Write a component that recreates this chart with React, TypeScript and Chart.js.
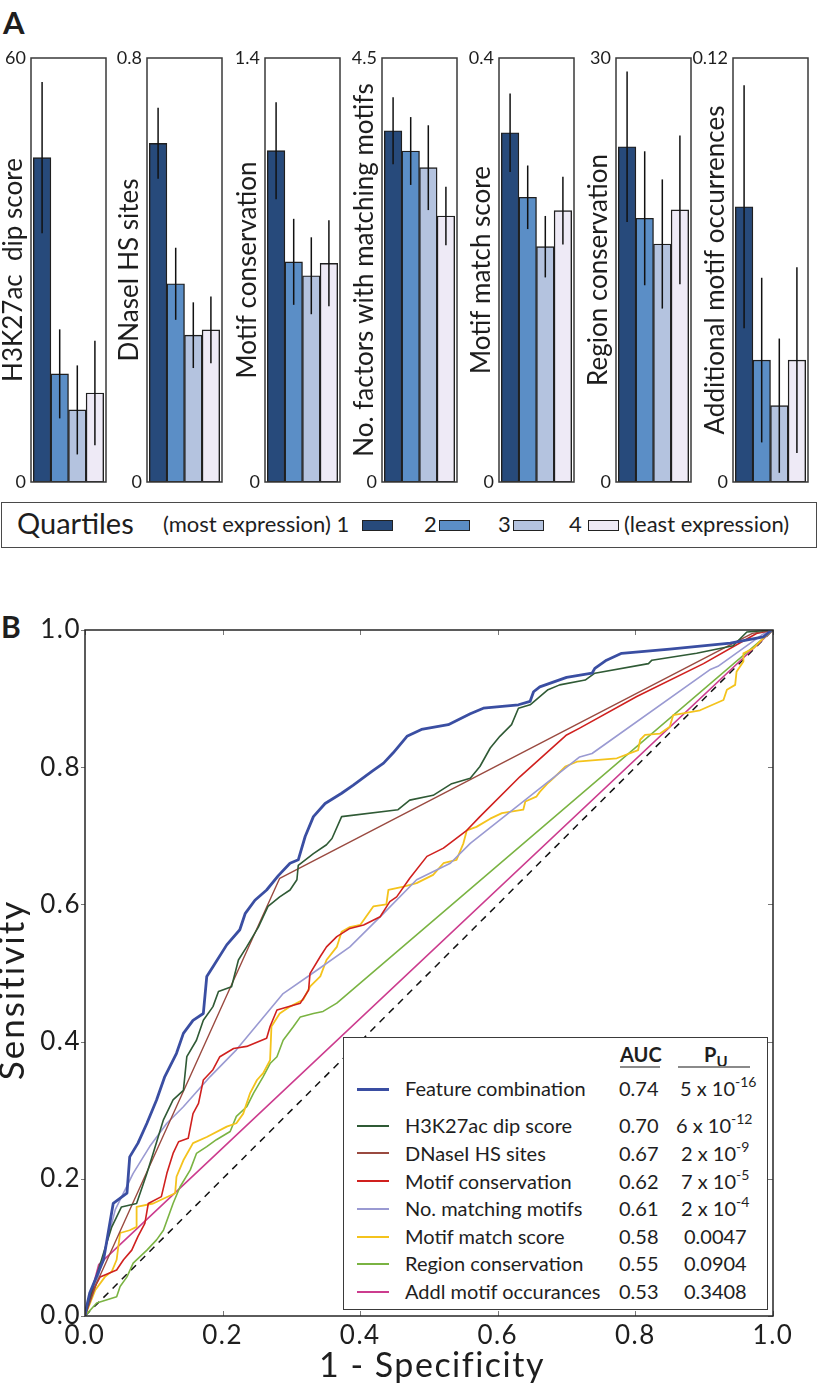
import React, { useEffect, useRef } from "react";
import { Chart, registerables } from "chart.js";

Chart.register(...registerables);

const FONT = "Lato, 'Open Sans', 'DejaVu Sans', sans-serif";
const TEXT = "#1e1e1e";

// ---------------- Panel A data ----------------
const quartiles = ["1", "2", "3", "4"];
const quartileColors = ["#274a7b", "#5b8ec6", "#b4c3df", "#eeeaf6"];

const panelTitles = [
  "H3K27ac  dip score",
  "DNaseI HS sites",
  "Motif conservation",
  "No. factors with matching motifs",
  "Motif match score",
  "Region conservation",
  "Additional motif occurrences",
];
const panelMaxValues = [60, 0.8, 1.4, 4.5, 0.4, 30, 0.12];
const panelMaxLabels = ["60", "0.8", "1.4", "4.5", "0.4", "30", "0.12"];

const h3k27acMean = [45.9, 15.3, 10.2, 12.6];
const h3k27acErr = [10.7, 6.3, 6.3, 7.4];
const dnaseMean = [0.639, 0.374, 0.277, 0.287];
const dnaseErr = [0.067, 0.068, 0.062, 0.063];
const motifConsMean = [1.094, 0.727, 0.681, 0.722];
const motifConsErr = [0.16, 0.142, 0.127, 0.142];
const factorsMean = [3.728, 3.513, 3.336, 2.823];
const factorsErr = [0.355, 0.36, 0.45, 0.31];
const matchScoreMean = [0.3295, 0.2686, 0.222, 0.256];
const matchScoreErr = [0.037, 0.03, 0.029, 0.032];
const regionConsMean = [23.72, 18.66, 16.84, 19.25];
const regionConsErr = [5.33, 4.74, 4.57, 5.26];
const addlMotifMean = [0.0779, 0.0345, 0.0216, 0.0345];
const addlMotifErr = [0.0344, 0.0233, 0.019, 0.0263];

const panelMeans = [h3k27acMean, dnaseMean, motifConsMean, factorsMean, matchScoreMean, regionConsMean, addlMotifMean];
const panelErrors = [h3k27acErr, dnaseErr, motifConsErr, factorsErr, matchScoreErr, regionConsErr, addlMotifErr];

// ---------------- Panel B data ----------------
type Pt = [number, number];
const rocTickValues = [0, 0.2, 0.4, 0.6, 0.8, 1.0];
const rocTickLabels = ["0.0", "0.2", "0.4", "0.6", "0.8", "1.0"];
const rocXTitle = "1 - Specificity";
const rocYTitle = "Sensitivity";

const featureCombinationRoc: Pt[] = [
  [0, 0], [0.002, 0.012], [0.007, 0.034], [0.027, 0.082], [0.041, 0.164], [0.061, 0.179], [0.065, 0.232],
  [0.077, 0.252], [0.09, 0.281], [0.104, 0.315], [0.116, 0.349], [0.133, 0.383], [0.143, 0.412], [0.157, 0.431],
  [0.172, 0.441], [0.177, 0.495], [0.186, 0.509], [0.206, 0.541], [0.225, 0.563], [0.233, 0.587], [0.247, 0.606],
  [0.264, 0.621], [0.281, 0.642], [0.298, 0.66], [0.31, 0.665], [0.32, 0.699], [0.332, 0.728], [0.349, 0.747],
  [0.373, 0.762], [0.39, 0.774], [0.417, 0.794], [0.434, 0.806], [0.448, 0.821], [0.468, 0.845], [0.489, 0.855],
  [0.528, 0.862], [0.56, 0.878], [0.579, 0.886], [0.63, 0.891], [0.647, 0.896], [0.652, 0.91], [0.661, 0.917],
  [0.7, 0.931], [0.737, 0.937], [0.741, 0.944], [0.758, 0.956], [0.78, 0.966], [0.85, 0.972], [0.938, 0.981],
  [0.986, 0.99], [0.998, 1.0], [1, 1],
];
const h3k27acRoc: Pt[] = [
  [0, 0], [0.005, 0.02], [0.027, 0.092], [0.039, 0.13], [0.053, 0.159], [0.075, 0.164], [0.09, 0.208],
  [0.099, 0.237], [0.114, 0.286], [0.128, 0.315], [0.143, 0.329], [0.148, 0.378], [0.162, 0.402], [0.172, 0.431],
  [0.186, 0.451], [0.194, 0.473], [0.213, 0.48], [0.223, 0.519], [0.235, 0.538], [0.252, 0.567], [0.266, 0.597],
  [0.283, 0.611], [0.298, 0.621], [0.308, 0.636], [0.31, 0.657], [0.332, 0.674], [0.351, 0.687], [0.359, 0.696],
  [0.373, 0.728], [0.455, 0.738], [0.472, 0.752], [0.506, 0.759], [0.533, 0.776], [0.56, 0.784], [0.574, 0.801],
  [0.589, 0.828], [0.603, 0.845], [0.62, 0.862], [0.63, 0.886], [0.647, 0.891], [0.673, 0.913], [0.69, 0.92],
  [0.727, 0.927], [0.741, 0.937], [0.819, 0.951], [0.824, 0.956], [0.889, 0.966], [0.942, 0.977], [0.962, 0.997],
  [1, 1],
];
const dnaseRoc: Pt[] = [[0, 0], [0.017, 0.048], [0.283, 0.638], [0.97, 0.995], [1, 1]];
const motifConservationRoc: Pt[] = [
  [0, 0], [0.012, 0.038], [0.022, 0.057], [0.046, 0.067], [0.056, 0.082], [0.068, 0.096], [0.077, 0.116],
  [0.087, 0.135], [0.092, 0.164], [0.111, 0.174], [0.119, 0.208], [0.128, 0.237], [0.136, 0.254], [0.15, 0.259],
  [0.157, 0.295], [0.165, 0.31], [0.172, 0.344], [0.186, 0.359], [0.196, 0.378], [0.216, 0.39], [0.235, 0.393],
  [0.264, 0.405], [0.269, 0.422], [0.279, 0.446], [0.313, 0.456], [0.325, 0.475], [0.327, 0.499], [0.342, 0.524],
  [0.351, 0.538], [0.366, 0.553], [0.385, 0.565], [0.405, 0.57], [0.429, 0.582], [0.443, 0.604], [0.453, 0.611],
  [0.472, 0.638], [0.497, 0.67], [0.521, 0.682], [0.555, 0.708], [0.574, 0.728], [0.632, 0.786], [0.7, 0.847],
  [0.719, 0.857], [0.802, 0.903], [0.899, 0.951], [0.976, 0.995], [1, 1],
];
const matchingMotifsRoc: Pt[] = [
  [0, 0], [0.019, 0.057], [0.044, 0.155], [0.07, 0.208], [0.094, 0.247], [0.119, 0.281], [0.143, 0.305],
  [0.182, 0.349], [0.22, 0.388], [0.288, 0.47], [0.337, 0.504], [0.385, 0.538], [0.434, 0.587], [0.482, 0.636],
  [0.531, 0.66], [0.56, 0.689], [0.719, 0.815], [0.737, 0.82], [0.908, 0.942], [0.92, 0.947], [0.991, 0.998], [1, 1],
];
const motifMatchScoreRoc: Pt[] = [
  [0, 0], [0.015, 0.038], [0.029, 0.057], [0.039, 0.065], [0.046, 0.082], [0.051, 0.121], [0.065, 0.125],
  [0.075, 0.13], [0.075, 0.159], [0.099, 0.164], [0.131, 0.179], [0.133, 0.203], [0.143, 0.227], [0.157, 0.252],
  [0.177, 0.261], [0.206, 0.276], [0.22, 0.281], [0.23, 0.295], [0.24, 0.325], [0.25, 0.344], [0.259, 0.354],
  [0.269, 0.373], [0.271, 0.422], [0.283, 0.441], [0.298, 0.451], [0.317, 0.461], [0.327, 0.48], [0.342, 0.495],
  [0.351, 0.519], [0.366, 0.538], [0.373, 0.56], [0.385, 0.567], [0.4, 0.57], [0.419, 0.597], [0.438, 0.6],
  [0.441, 0.621], [0.463, 0.626], [0.482, 0.631], [0.506, 0.643], [0.521, 0.66], [0.54, 0.665], [0.55, 0.689],
  [0.555, 0.708], [0.569, 0.713], [0.589, 0.725], [0.606, 0.733], [0.637, 0.738], [0.64, 0.75], [0.656, 0.757],
  [0.661, 0.764], [0.673, 0.777], [0.681, 0.784], [0.698, 0.801], [0.715, 0.808], [0.773, 0.813], [0.804, 0.825],
  [0.807, 0.84], [0.814, 0.847], [0.836, 0.849], [0.85, 0.859], [0.855, 0.876], [0.894, 0.883], [0.928, 0.898],
  [0.933, 0.913], [0.945, 0.92], [0.947, 0.939], [0.957, 0.954], [0.957, 0.966], [0.971, 0.973], [0.981, 0.983],
  [0.996, 0.998], [1, 1],
];
const regionConservationRoc: Pt[] = [
  [0, 0], [0.017, 0.019], [0.046, 0.028], [0.051, 0.043], [0.061, 0.057], [0.07, 0.077], [0.09, 0.096],
  [0.104, 0.111], [0.114, 0.125], [0.128, 0.164], [0.138, 0.188], [0.153, 0.213], [0.162, 0.237], [0.177, 0.247],
  [0.191, 0.257], [0.211, 0.269], [0.22, 0.291], [0.235, 0.305], [0.245, 0.325], [0.259, 0.349], [0.269, 0.368],
  [0.279, 0.378], [0.288, 0.402], [0.303, 0.422], [0.313, 0.436], [0.332, 0.441], [0.346, 0.444], [0.366, 0.456],
  [1, 1],
];
const addlMotifRoc: Pt[] = [[0, 0], [0.02, 0.075], [1, 1]];
const chanceRoc: Pt[] = [[0, 0], [1, 1]];

const rocNames = [
  "Feature combination",
  "H3K27ac  dip score",
  "DNaseI HS sites",
  "Motif conservation",
  "No. matching motifs",
  "Motif match score",
  "Region conservation",
  "Addl motif occurances",
];
const rocAuc = ["0.74", "0.70", "0.67", "0.62", "0.61", "0.58", "0.55", "0.53"];
const rocPBase = ["5 x 10", "6 x 10", "2 x 10", "7 x 10", "2 x 10", "0.0047", "0.0904", "0.3408"];
const rocPExp = ["-16", "-12", "-9", "-5", "-4", "", "", ""];
const rocSeries = [
  featureCombinationRoc, h3k27acRoc, dnaseRoc, motifConservationRoc,
  matchingMotifsRoc, motifMatchScoreRoc, regionConservationRoc, addlMotifRoc,
];
const rocColors = ["#3a4ea2", "#2f5a35", "#9a4a40", "#d0201e", "#9a9ad2", "#f4c31c", "#7ab342", "#cc3c8e"];
const rocWidths = [2.8, 1.6, 1.4, 1.6, 1.6, 1.8, 1.6, 1.6];

// ---------------- layout constants ----------------
const panelLefts = [31, 147, 265, 382, 499, 616, 733];
const PANEL_W = 75;
const AXIS_W = 40;
const PANEL_CANVAS_TOP = 30;
const PANEL_CANVAS_H = 470;
const PANEL_TOP = 58;
const PANEL_BOTTOM = 482;

const panelDecor = {
  id: "panelDecor",
  afterDatasetsDraw(chart: any, _args: any, opts: any) {
    const { ctx, chartArea: a, scales } = chart;
    const y = scales.y;
    const meta = chart.getDatasetMeta(0);
    const means = opts.means as number[];
    const errs = opts.errors as number[];
    ctx.save();
    ctx.strokeStyle = "#111";
    ctx.lineWidth = 1.5;
    meta.data.forEach((el: any, i: number) => {
      ctx.beginPath();
      ctx.moveTo(el.x, y.getPixelForValue(means[i] + errs[i]));
      ctx.lineTo(el.x, y.getPixelForValue(means[i] - errs[i]));
      ctx.stroke();
    });
    ctx.strokeStyle = "#3a3a3a";
    ctx.lineWidth = 1.5;
    ctx.strokeRect(a.left, a.top, a.right - a.left, a.bottom - a.top);
    ctx.translate(a.left - 9, (a.top + a.bottom) / 2);
    ctx.rotate(-Math.PI / 2);
    ctx.fillStyle = TEXT;
    ctx.font = `26px ${FONT}`;
    ctx.textAlign = "center";
    ctx.textBaseline = "alphabetic";
    ctx.fillText(opts.title, 0, 0);
    ctx.restore();
  },
};

function BarPanel({ idx }: { idx: number }) {
  const ref = useRef<HTMLCanvasElement>(null);
  const cw = AXIS_W + PANEL_W + 5;
  useEffect(() => {
    const max = panelMaxValues[idx];
    const means = panelMeans[idx];
    const chart = new Chart(ref.current as HTMLCanvasElement, {
      type: "bar",
      data: {
        datasets: [
          {
            data: quartiles.map((_q, i) => ({ x: i, y: means[i] })),
            backgroundColor: quartileColors,
            borderColor: "#1f1f1f",
            borderWidth: 1.4,
            borderSkipped: false,
            barPercentage: 1,
            categoryPercentage: 1,
          } as any,
        ],
      },
      options: {
        responsive: false,
        animation: false,
        devicePixelRatio: 1,
        layout: {
          padding: {
            top: PANEL_TOP - PANEL_CANVAS_TOP,
            right: 5,
            bottom: PANEL_CANVAS_TOP + PANEL_CANVAS_H - PANEL_BOTTOM,
            left: 0,
          },
        },
        plugins: {
          legend: { display: false },
          tooltip: { enabled: false },
          panelDecor: { means, errors: panelErrors[idx], title: panelTitles[idx] },
        } as any,
        scales: {
          x: { type: "linear", min: -0.63, max: 3.63, offset: false, display: false },
          y: {
            type: "linear",
            min: 0,
            max,
            afterFit: (s: any) => {
              s.width = AXIS_W;
            },
            afterBuildTicks: (s: any) => {
              s.ticks = [{ value: 0 }, { value: max }];
            },
            ticks: {
              callback: (v: any) => (v === 0 ? "0" : panelMaxLabels[idx]),
              font: { family: FONT, size: 18 },
              color: TEXT,
              padding: 5,
            },
            grid: { display: false, drawTicks: false },
            border: { display: false },
          },
        } as any,
      },
      plugins: [panelDecor],
    });
    return () => chart.destroy();
  }, [idx]);
  return (
    <canvas
      ref={ref}
      width={cw}
      height={PANEL_CANVAS_H}
      style={{
        position: "absolute",
        left: panelLefts[idx] - AXIS_W,
        top: PANEL_CANVAS_TOP,
        width: cw,
        height: PANEL_CANVAS_H,
      }}
    />
  );
}

const ROC_TOP = 560;
const ROC_H = 833;

const rocFrame = {
  id: "rocFrame",
  beforeDraw(chart: any) {
    (chart.ctx as any).letterSpacing = "1.5px";
  },
  afterDatasetsDraw(chart: any) {
    const { ctx, chartArea: a, scales } = chart;
    ctx.save();
    ctx.strokeStyle = "#777";
    ctx.lineWidth = 1;
    rocTickValues.forEach((v) => {
      const px = Math.round(scales.x.getPixelForValue(v)) + 0.5;
      const py = Math.round(scales.y.getPixelForValue(v)) + 0.5;
      ctx.beginPath();
      ctx.moveTo(px, a.top);
      ctx.lineTo(px, a.top + 5);
      ctx.moveTo(px, a.bottom);
      ctx.lineTo(px, a.bottom - 5);
      ctx.moveTo(a.left - 4, py);
      ctx.lineTo(a.left, py);
      ctx.moveTo(a.right, py);
      ctx.lineTo(a.right - 5, py);
      ctx.stroke();
    });
    ctx.strokeStyle = "#262626";
    ctx.lineWidth = 1.5;
    ctx.strokeRect(a.left, a.top, a.right - a.left, a.bottom - a.top);
    ctx.restore();
  },
  afterDraw(chart: any) {
    const { ctx, chartArea: a } = chart;
    ctx.save();
    ctx.fillStyle = TEXT;
    ctx.textBaseline = "alphabetic";
    ctx.textAlign = "center";
    // x title
    ctx.font = `34px ${FONT}`;
    (ctx as any).letterSpacing = "1.5px";
    ctx.fillText(rocXTitle, (a.left + a.right) / 2 + 3, 1377 - ROC_TOP);
    // y title
    ctx.font = `35px ${FONT}`;
    (ctx as any).letterSpacing = "2px";
    ctx.translate(24, 990 - ROC_TOP);
    ctx.rotate(-Math.PI / 2);
    ctx.fillText(rocYTitle, 0, 0);
    ctx.restore();
    (ctx as any).letterSpacing = "0px";
  },
};

function RocChart() {
  const ref = useRef<HTMLCanvasElement>(null);
  useEffect(() => {
    const datasets: any[] = rocSeries.map((pts, i) => ({
      label: rocNames[i],
      data: pts.map(([x, y]) => ({ x, y })),
      borderColor: rocColors[i],
      borderWidth: rocWidths[i],
      pointRadius: 0,
      fill: false,
      tension: 0,
    }));
    datasets.push({
      label: "chance",
      data: chanceRoc.map(([x, y]) => ({ x, y })),
      borderColor: "#111",
      borderWidth: 1.5,
      borderDash: [7, 6],
      pointRadius: 0,
      fill: false,
    });
    const chart = new Chart(ref.current as HTMLCanvasElement, {
      type: "line",
      data: { datasets },
      options: {
        responsive: false,
        animation: false,
        devicePixelRatio: 1,
        layout: { padding: { top: 630 - ROC_TOP, right: 49, bottom: 0, left: 0 } },
        plugins: { legend: { display: false }, tooltip: { enabled: false } },
        elements: { line: { borderJoinStyle: "round" } },
        scales: {
          x: {
            type: "linear",
            min: 0,
            max: 1,
            afterFit: (s: any) => {
              s.height = ROC_TOP + ROC_H - 1316;
            },
            afterBuildTicks: (s: any) => {
              s.ticks = rocTickValues.map((v) => ({ value: v }));
            },
            ticks: {
              callback: (_v: any, i: number) => rocTickLabels[i],
              font: { family: FONT, size: 26 },
              color: TEXT,
              padding: 4,
              maxRotation: 0,
              autoSkip: false,
            },
            grid: { display: false, drawTicks: false },
            border: { display: false },
          },
          y: {
            type: "linear",
            min: 0,
            max: 1,
            afterFit: (s: any) => {
              s.width = 85;
            },
            afterBuildTicks: (s: any) => {
              s.ticks = rocTickValues.map((v) => ({ value: v }));
            },
            ticks: {
              callback: (_v: any, i: number) => rocTickLabels[i],
              font: { family: FONT, size: 26 },
              color: TEXT,
              padding: 4,
            },
            grid: { display: false, drawTicks: false },
            border: { display: false },
          },
        } as any,
      },
      plugins: [rocFrame],
    });
    return () => chart.destroy();
  }, []);
  return (
    <canvas
      ref={ref}
      width={822}
      height={ROC_H}
      style={{ position: "absolute", left: 0, top: ROC_TOP, width: 822, height: ROC_H }}
    />
  );
}

const abs = (left: number, top: number, extra: React.CSSProperties = {}): React.CSSProperties => ({
  position: "absolute",
  left,
  top,
  whiteSpace: "nowrap",
  ...extra,
});

// baseline-positioned text with line-height == font size (Lato: baseline ≈ top + 0.887*F)
const txt = (left: number, baseline: number, size: number, extra: React.CSSProperties = {}): React.CSSProperties =>
  abs(left, baseline - 0.887 * size, { fontSize: size, lineHeight: `${size}px`, ...extra });

function QuartileLegend() {
  const swatchLefts = [362, 439, 513, 588];
  const numLefts = [0, 424, 498, 569];
  return (
    <>
      <div
        style={abs(1, 502, {
          width: 816,
          height: 46,
          border: "1.5px solid #4a4a4a",
          boxSizing: "border-box",
        })}
      />
      <div style={txt(17, 534, 29)}>Quartiles</div>
      <div style={txt(163, 533, 22)}>(most expression) {quartiles[0]}</div>
      {quartiles.map((q, i) => (
        <React.Fragment key={q}>
          {i > 0 && <div style={txt(numLefts[i], 533, 22)}>{q}</div>}
          <div
            style={abs(swatchLefts[i], 520, {
              width: 31,
              height: 11,
              background: quartileColors[i],
              border: "1.5px solid #222",
              boxSizing: "border-box",
            })}
          />
        </React.Fragment>
      ))}
      <div style={txt(624, 533, 22)}>(least expression)</div>
    </>
  );
}

function RocLegend() {
  const L = 343;
  const T = 1037;
  const baselines = [1095, 1131.7, 1159.3, 1187.3, 1215, 1242.7, 1270, 1297.7];
  const pLefts = [679, 675, 680, 680, 680, 683, 683, 683];
  return (
    <div
      style={abs(L, T, {
        width: 768 - L,
        height: 1310 - T,
        border: "1.5px solid #3a3a3a",
        boxSizing: "border-box",
        background: "#fff",
      })}
    >
      <div style={txt(619 - L, 1061 - T, 20, { fontWeight: 700, width: 40, textAlign: "center" })}>AUC</div>
      <div style={abs(619 - L, 1065 - T, { width: 40, height: 2, background: "#8a8a8a" })} />
      <div style={txt(703 - L, 1061 - T, 20, { fontWeight: 700 })}>
        P<span style={{ fontSize: 15, position: "relative", top: 5 }}>U</span>
      </div>
      <div style={abs(677 - L, 1065 - T, { width: 72, height: 2, background: "#8a8a8a" })} />
      {rocNames.map((name, i) => (
        <React.Fragment key={name}>
          <div
            style={abs(356 - L, Math.round(baselines[i] - 8 - T), {
              width: 32,
              height: i === 0 ? 3 : 2,
              background: rocColors[i],
            })}
          />
          <div style={txt(404 - L, baselines[i] - T, 20)}>{name}</div>
          <div style={txt(618 - L, baselines[i] - T, 20)}>{rocAuc[i]}</div>
          <div style={txt(pLefts[i] - L, baselines[i] - T, 20)}>
            {rocPBase[i]}
            {rocPExp[i] && <span style={{ fontSize: 14, position: "relative", top: -9 }}>{rocPExp[i]}</span>}
          </div>
        </React.Fragment>
      ))}
    </div>
  );
}

export default function App() {
  return (
    <div
      style={{
        position: "absolute",
        left: 0,
        top: 0,
        width: 822,
        height: 1393,
        background: "#fff",
        fontFamily: FONT,
        color: TEXT,
        overflow: "hidden",
      }}
    >
      <div style={txt(3, 34, 31, { fontWeight: 700 })}>A</div>
      {panelLefts.map((_l, i) => (
        <BarPanel key={i} idx={i} />
      ))}
      <QuartileLegend />
      <div style={txt(1, 638, 30, { fontWeight: 700 })}>B</div>
      <RocChart />
      <RocLegend />
    </div>
  );
}
